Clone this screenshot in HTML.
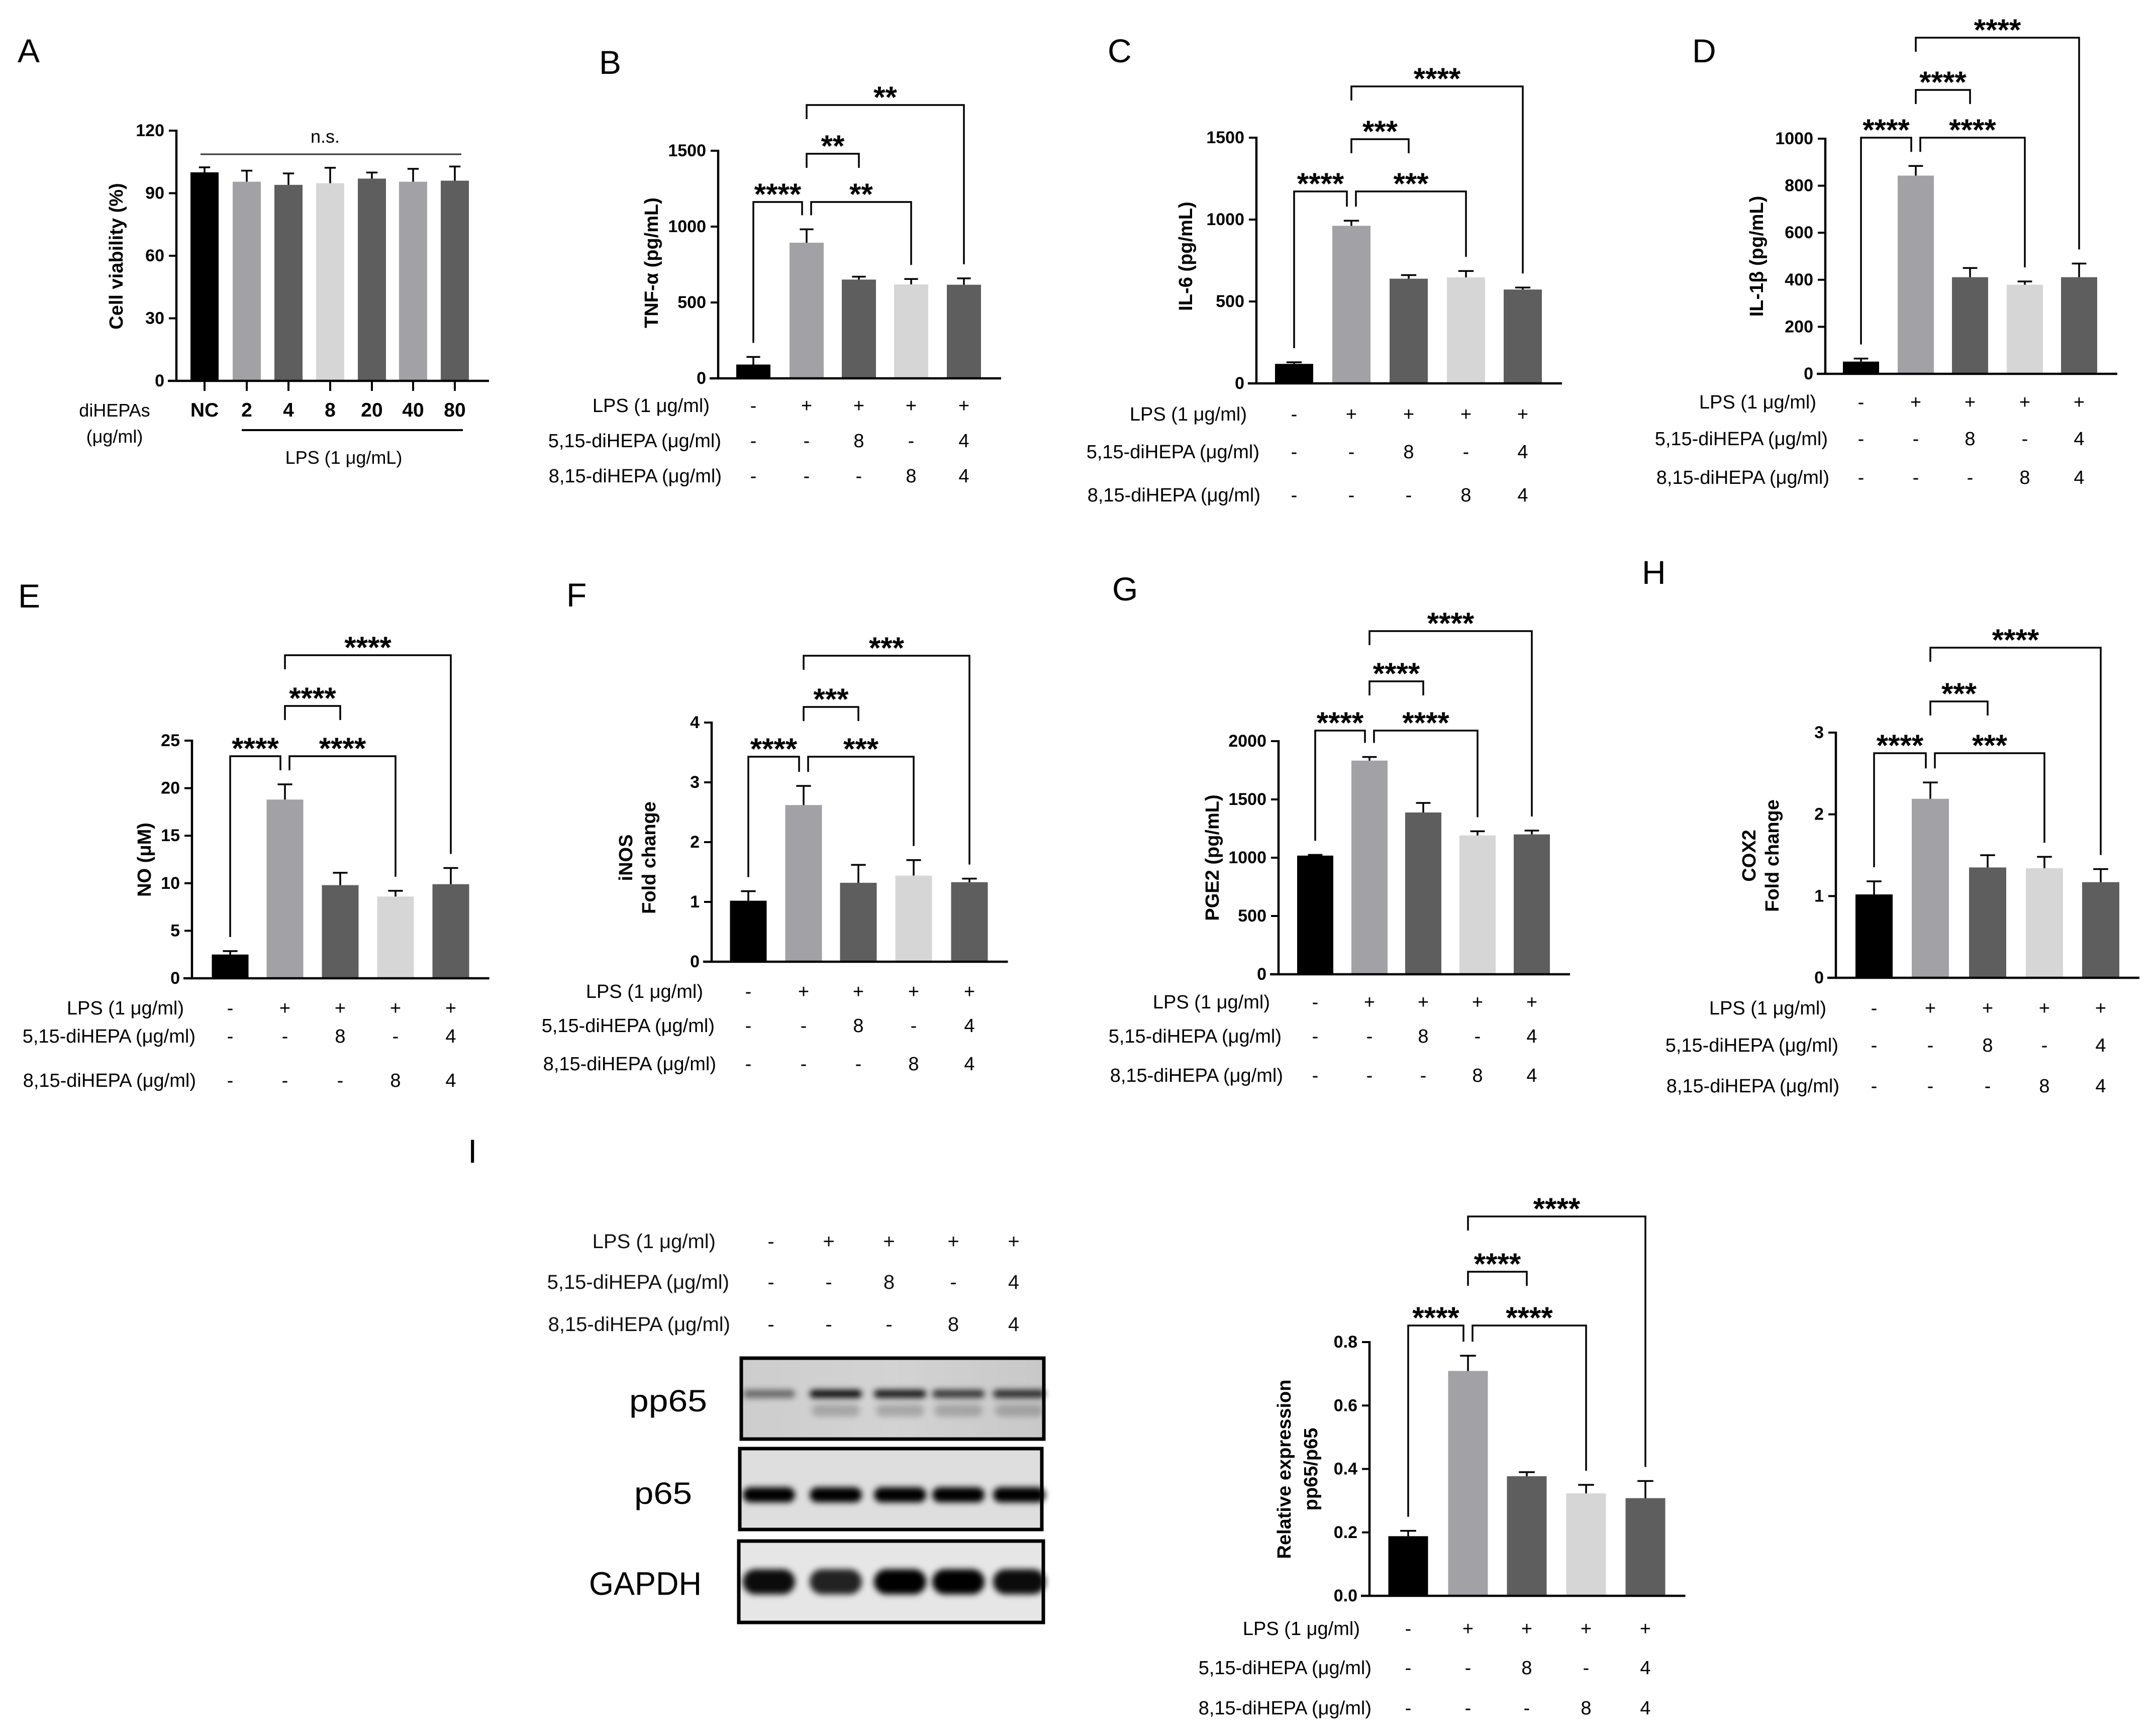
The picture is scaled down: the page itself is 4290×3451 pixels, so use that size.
<!DOCTYPE html>
<html>
<head>
<meta charset="utf-8">
<style>
html,body{margin:0;padding:0;background:#fff;}
svg{display:block;font-family:"Liberation Sans",Arial,sans-serif;}
</style>
</head>
<body>
<svg id="fig" xmlns="http://www.w3.org/2000/svg" width="4290" height="3451" viewBox="0 0 4290 3451">
<defs>
<filter id="blur" x="-30%" y="-80%" width="160%" height="260%"><feGaussianBlur stdDeviation="6"/></filter>
<linearGradient id="ppbg" x1="0" y1="0" x2="1" y2="0">
<stop offset="0" stop-color="#cdcdcd"/><stop offset="0.5" stop-color="#d3d3d3"/><stop offset="1" stop-color="#c8c8c8"/>
</linearGradient>
</defs>
<rect x="0" y="0" width="4290" height="3451" fill="#fff"/>
</svg>
<script>
// ---------- DATA ----------
const catsA = ['NC','2','4','8','20','40','80'];
const valsA = [100, 95.5, 94, 94.8, 97, 95.5, 96];
const errsA = [2.4, 5.3, 5.5, 7.4, 2.9, 6.2, 6.8];
const ticksA = [0, 30, 60, 90, 120];

const lpsRow   = ['-','+','+','+','+'];
const hepa5Row = ['-','-','8','-','4'];
const hepa8Row = ['-','-','-','8','4'];
const sigPairs = [[0,1],[1,2],[1,3],[1,4]];

const valsB = [91, 894, 651, 619, 617];
const errsB = [50, 88, 19, 36, 42];
const ticksB = [0, 500, 1000, 1500];
const starsB = ['****','**','**','**'];

const valsC = [119, 962, 639, 647, 573];
const errsC = [10, 31, 22, 39, 12];
const ticksC = [0, 500, 1000, 1500];
const starsC = ['****','***','***','****'];

const valsD = [52, 843, 411, 379, 411];
const errsD = [13, 41, 39, 14, 58];
const ticksD = [0, 200, 400, 600, 800, 1000];
const starsD = ['****','****','****','****'];

const valsE = [2.5, 18.8, 9.8, 8.6, 9.9];
const errsE = [0.36, 1.6, 1.3, 0.6, 1.7];
const ticksE = [0, 5, 10, 15, 20, 25];
const starsE = ['****','****','****','****'];

const valsF = [1.02, 2.62, 1.32, 1.44, 1.33];
const errsF = [0.16, 0.32, 0.30, 0.26, 0.06];
const ticksF = [0, 1, 2, 3, 4];
const starsF = ['****','***','***','***'];

const valsG = [1018, 1833, 1388, 1191, 1200];
const errsG = [6, 31, 82, 36, 33];
const ticksG = [0, 500, 1000, 1500, 2000];
const starsG = ['****','****','****','****'];

const valsH = [1.02, 2.19, 1.35, 1.34, 1.17];
const errsH = [0.16, 0.20, 0.15, 0.14, 0.16];
const ticksH = [0, 1, 2, 3];
const starsH = ['****','***','***','****'];

const valsI = [0.188, 0.709, 0.377, 0.323, 0.308];
const errsI = [0.017, 0.048, 0.013, 0.027, 0.054];
const ticksI = [0, 0.2, 0.4, 0.6, 0.8];
const tickLabelsI = ['0.0','0.2','0.4','0.6','0.8'];
const starsI = ['****','****','****','****'];

// blot band darkness per lane (0..1)
const pp65Bands  = [0.5, 0.95, 0.9, 0.75, 0.8];
const p65Bands   = [1, 1, 1, 1, 1];
const gapdhBands = [0.95, 0.85, 1, 1, 0.95];

// ---------- HELPERS ----------
const NS = 'http://www.w3.org/2000/svg';
const svg = document.getElementById('fig');
function mk(tag, attrs, parent){
  const e = document.createElementNS(NS, tag);
  for (const k in attrs) e.setAttribute(k, attrs[k]);
  (parent || svg).appendChild(e);
  return e;
}
function txt(str, attrs, parent){
  const e = mk('text', attrs, parent);
  e.textContent = str;
  return e;
}
const COLORS5 = ['#000000','#a1a1a6','#5e5e5e','#d6d6d6','#5e5e5e'];
const COLORSA = ['#000000','#a1a1a6','#5e5e5e','#d6d6d6','#5e5e5e','#a1a1a6','#5e5e5e'];

function panelLetter(ch, x, y){
  const t = txt(ch, {x:x, y:y, 'font-size':66, fill:'#000'});
  
  
}

function drawChart(cfg, vals, errs, ticks, tickLabels, stars, colors){
  const g = mk('g', {});
  
  
  const maxV = ticks[ticks.length-1];
  const ys = v => cfg.y0 - (v / maxV) * (cfg.y0 - cfg.yTop);
  const n = vals.length;
  const xs = i => cfg.bars[i];
  for (let i = 0; i < n; i++){
    const b = mk('rect', {x: xs(i) - cfg.bw/2, y: ys(vals[i]), width: cfg.bw, height: cfg.y0 - ys(vals[i]), fill: colors[i]}, g);
    
    
    const top = ys(vals[i] + errs[i]);
    const el = mk('path', {d: 'M' + xs(i) + ' ' + ys(vals[i]) + 'V' + top + 'M' + (xs(i)-cfg.bw*0.2) + ' ' + top + 'H' + (xs(i)+cfg.bw*0.2), stroke:'#000', 'stroke-width':3.5, fill:'none'}, g);
    
    
  }
  const xEnd = xs(n-1) + cfg.bw/2 + 40;
  const ax = mk('path', {d: 'M' + (cfg.ax - 17) + ' ' + cfg.y0 + 'H' + xEnd + 'M' + cfg.ax + ' ' + (cfg.y0+2) + 'V' + (ys(maxV)-2), stroke:'#000', 'stroke-width':4.5, fill:'none'}, g);
  
  
  for (let k = 0; k < ticks.length; k++){
    const ty = ys(ticks[k]);
    const tk = mk('line', {x1: cfg.ax - 15, x2: cfg.ax, y1: ty, y2: ty, stroke:'#000', 'stroke-width':4}, g);
    
    
    const tl = txt(tickLabels ? tickLabels[k] : String(ticks[k]), {x: cfg.ax - 24, y: ty, 'text-anchor':'end', 'dominant-baseline':'central', 'font-size':34, 'font-weight':'bold', fill:'#000'}, g);
    
    
  }
  if (stars){
    for (let s = 0; s < sigPairs.length; s++){
      const i = sigPairs[s][0], j = sigPairs[s][1];
      const by = cfg.brk[s];
      let xi = xs(i), xj = xs(j);
      if (s === 0) xj -= 9;
      if (s === 2) xi += 9;
      const legLong = k => ys(vals[k] + errs[k]) - 28;
      const li = (s === 1 || s === 3) ? by + 28 : legLong(i);
      const lj = (s === 1) ? by + 28 : legLong(j);
      const br = mk('path', {d: 'M' + xi + ' ' + li + 'V' + by + 'H' + xj + 'V' + lj, stroke:'#000', 'stroke-width':3.5, fill:'none'}, g);
      
      
      const st = txt(stars[s], {x: (xi + xj)/2, y: by + 5, 'text-anchor':'middle', 'font-size':60, 'font-weight':'bold', fill:'#000'}, g);
      
      
    }
  }
  if (cfg.rows){
    const names = ['LPS (1 \u03bcg/ml)','5,15-diHEPA (\u03bcg/ml)','8,15-diHEPA (\u03bcg/ml)'];
    const rowsVals = [lpsRow, hepa5Row, hepa8Row];
    for (let r = 0; r < 3; r++){
      const rl = txt(names[r], {x: cfg.rowR[r], y: cfg.rows[r], 'text-anchor':'end', 'font-size':38, fill:'#000'}, g);
      
      
      for (let i = 0; i < n; i++){
        const rv = txt(rowsVals[r][i], {x: xs(i), y: cfg.rows[r], 'text-anchor':'middle', 'font-size':38, fill:'#000'}, g);
        
        
      }
    }
  }
  return {g: g, ys: ys};
}

function yTitle(lines, xs, cy, parent){
  for (let j = 0; j < lines.length; j++){
    const t = txt(lines[j], {x: 0, y: 0, transform: 'translate(' + xs[j] + ' ' + cy + ') rotate(-90)', 'text-anchor':'middle', 'dominant-baseline':'central', 'font-size':38, 'font-weight':'bold', fill:'#000'}, parent);
    
    
  }
}

// ---------- PANELS ----------
const cfgs = {
  A:{name:'panel-a-cell-viability', ax:351, y0:758, yTop:260, bw:56, bars:[407,491,574,657,740,822,905]},
  B:{name:'panel-b-tnf-alpha', ax:1429, y0:753, yTop:300, bw:68, bars:[1499,1605,1709,1813,1918], brk:[402,306,402,209], rows:[820,890,960], rowR:[1412,1435,1436]},
  C:{name:'panel-c-il6', ax:2500, y0:763, yTop:274, bw:76, bars:[2575,2689,2803,2917,3030], brk:[381,277,381,172], rows:[837,912,998], rowR:[2481,2506,2508]},
  D:{name:'panel-d-il1b', ax:3632, y0:744, yTop:276, bw:72, bars:[3703,3812,3920,4029,4137], brk:[274,179,274,75], rows:[813,886,963], rowR:[3614,3637,3640]},
  E:{name:'panel-e-no', ax:382, y0:1947, yTop:1474, bw:73, bars:[458,567,677,787,897], brk:[1505,1405,1505,1304], rows:[2019,2075,2163], rowR:[366,389,390]},
  F:{name:'panel-f-inos', ax:1416, y0:1914, yTop:1438, bw:73, bars:[1489,1599,1708,1818,1929], brk:[1506,1407,1506,1305], rows:[1986,2054,2130], rowR:[1399,1422,1425]},
  G:{name:'panel-g-pge2', ax:2544, y0:1939, yTop:1475, bw:72, bars:[2617,2725,2832,2940,3048], brk:[1454,1356,1454,1256], rows:[2007,2075,2153], rowR:[2527,2550,2553]},
  H:{name:'panel-h-cox2', ax:3653, y0:1946, yTop:1458, bw:74, bars:[3729,3841,3955,4068,4180], brk:[1499,1396,1499,1289], rows:[2019,2093,2174], rowR:[3634,3658,3660]},
  I:{name:'panel-i-pp65-ratio', ax:2725, y0:3176, yTop:2671, bw:79, bars:[2802,2921,3038,3156,3274], brk:[2638,2531,2638,2421], rows:[3254,3332,3412], rowR:[2706,2729,2729]}
};

const pA = drawChart(cfgs.A, valsA, errsA, ticksA, null, null, COLORSA);
const pB = drawChart(cfgs.B, valsB, errsB, ticksB, null, starsB, COLORS5);
const pC = drawChart(cfgs.C, valsC, errsC, ticksC, null, starsC, COLORS5);
const pD = drawChart(cfgs.D, valsD, errsD, ticksD, null, starsD, COLORS5);
const pE = drawChart(cfgs.E, valsE, errsE, ticksE, null, starsE, COLORS5);
const pF = drawChart(cfgs.F, valsF, errsF, ticksF, null, starsF, COLORS5);
const pG = drawChart(cfgs.G, valsG, errsG, ticksG, null, starsG, COLORS5);
const pH = drawChart(cfgs.H, valsH, errsH, ticksH, null, starsH, COLORS5);
const pI = drawChart(cfgs.I, valsI, errsI, ticksI, tickLabelsI, starsI, COLORS5);

yTitle(['Cell viability (%)'], [232], 510, pA.g);
yTitle(['TNF-\u03b1 (pg/mL)'], [1297], 523, pB.g);
yTitle(['IL-6 (pg/mL)'], [2360], 510, pC.g);
yTitle(['IL-1\u03b2 (pg/mL)'], [3496], 510, pD.g);
yTitle(['NO (\u03bcM)'], [288], 1711, pE.g);
yTitle(['iNOS','Fold change'], [1246,1292], 1707, pF.g);
yTitle(['PGE2 (pg/mL)'], [2413], 1707, pG.g);
yTitle(['COX2','Fold change'], [3481,3527], 1703, pH.g);
yTitle(['Relative expression','pp65/p65'], [2556,2609], 2924, pI.g);

// Panel A extras
(function(){
  const g = pA.g;
  const c = cfgs.A;
  for (let i = 0; i < catsA.length; i++){
    const tk = mk('line', {x1: c.bars[i], x2: c.bars[i], y1: c.y0, y2: c.y0 + 20, stroke:'#000', 'stroke-width':4}, g);
    
    
    const lb = txt(catsA[i], {x: c.bars[i], y: 829, 'text-anchor':'middle', 'font-size':39, 'font-weight':'bold', fill:'#000'}, g);
    
    
  }
  const ns = mk('line', {x1: 399, x2: 918, y1: 307, y2: 307, stroke:'#333', 'stroke-width':3}, g);
  
  
  const nst = txt('n.s.', {x: 647, y: 284, 'text-anchor':'middle', 'font-size':36, fill:'#000'}, g);
  
  
  const d1 = txt('diHEPAs', {x: 228, y: 829, 'text-anchor':'middle', 'font-size':36, fill:'#000'}, g);
  
  
  const d2 = txt('(\u03bcg/ml)', {x: 228, y: 881, 'text-anchor':'middle', 'font-size':36, fill:'#000'}, g);
  
  
  const ll = mk('line', {x1: 481, x2: 921, y1: 856, y2: 856, stroke:'#000', 'stroke-width':4}, g);
  
  
  const lt = txt('LPS (1 \u03bcg/mL)', {x: 684, y: 923, 'text-anchor':'middle', 'font-size':36, fill:'#000'}, g);
  
  
})();

panelLetter('A', 35, 124);
panelLetter('B', 1192, 147);
panelLetter('C', 2204, 124);
panelLetter('D', 3367, 124);
panelLetter('E', 36, 1209);
panelLetter('F', 1127, 1207);
panelLetter('G', 2213, 1195);
panelLetter('H', 3267, 1162);
panelLetter('I', 931, 2314);

// ---------- WESTERN BLOT ----------
(function(){
  const g = mk('g', {});
  
  
  const lanes = [1534,1649,1769,1897,2017];
  const bandLanes = [1530,1663,1791,1907,2028];
  const names = ['LPS (1 \u03bcg/ml)','5,15-diHEPA (\u03bcg/ml)','8,15-diHEPA (\u03bcg/ml)'];
  const rowsY = [2484,2565,2649];
  const rowsR = [1424,1451,1453];
  const rowsVals = [lpsRow, hepa5Row, hepa8Row];
  for (let r = 0; r < 3; r++){
    const rl = txt(names[r], {x: rowsR[r], y: rowsY[r], 'text-anchor':'end', 'font-size':40, fill:'#111'}, g);
    
    
    for (let i = 0; i < 5; i++){
      const v = txt(rowsVals[r][i], {x: lanes[i], y: rowsY[r], 'text-anchor':'middle', 'font-size':40, fill:'#111'}, g);
      
      
    }
  }
  const blots = [
    {name:'pp65', x:1475, y:2703, w:602, h:161, fill:'url(#ppbg)', bandY:2774, bandH:16, bands:pp65Bands, lx:1252, ly:2809, lw:155, fs:61},
    {name:'p65', x:1472, y:2883, w:601, h:161, fill:'#dedede', bandY:2975, bandH:30, bands:p65Bands, lx:1262, ly:2993, lw:115, fs:61},
    {name:'GAPDH', x:1470, y:3067, w:606, h:162, fill:'#e6e6e6', bandY:3148, bandH:50, bands:gapdhBands, lx:1172, ly:3174, lw:224, fs:65}
  ];
  for (const b of blots){
    const bx = mk('rect', {x:b.x, y:b.y, width:b.w, height:b.h, fill:b.fill, stroke:'none'}, g);
    
    
    for (let i = 0; i < 5; i++){
      const d = b.bands[i];
      const band = mk('rect', {x: bandLanes[i] - 52, y: b.bandY - b.bandH/2, width: 104, height: b.bandH, rx: b.bandH/2, fill: '#000', opacity: d, filter:'url(#blur)'}, g);
      
      
    }
    const fr = mk('rect', {x:b.x, y:b.y, width:b.w, height:b.h, fill:'none', stroke:'#000', 'stroke-width':7}, g);
    
    
    const lt = txt(b.name, {x: b.lx, y: b.ly, 'font-size': b.fs, textLength: b.lw, lengthAdjust:'spacingAndGlyphs', fill:'#000'}, g);
    
    
  }
  for (let i = 1; i < 5; i++){
    const fb = mk('rect', {x: bandLanes[i] - 48, y: 2795, width: 96, height: 24, rx: 12, fill:'#444', opacity: 0.3, filter:'url(#blur)'}, g);
    
    
  }
})();
</script>
</body>
</html>
